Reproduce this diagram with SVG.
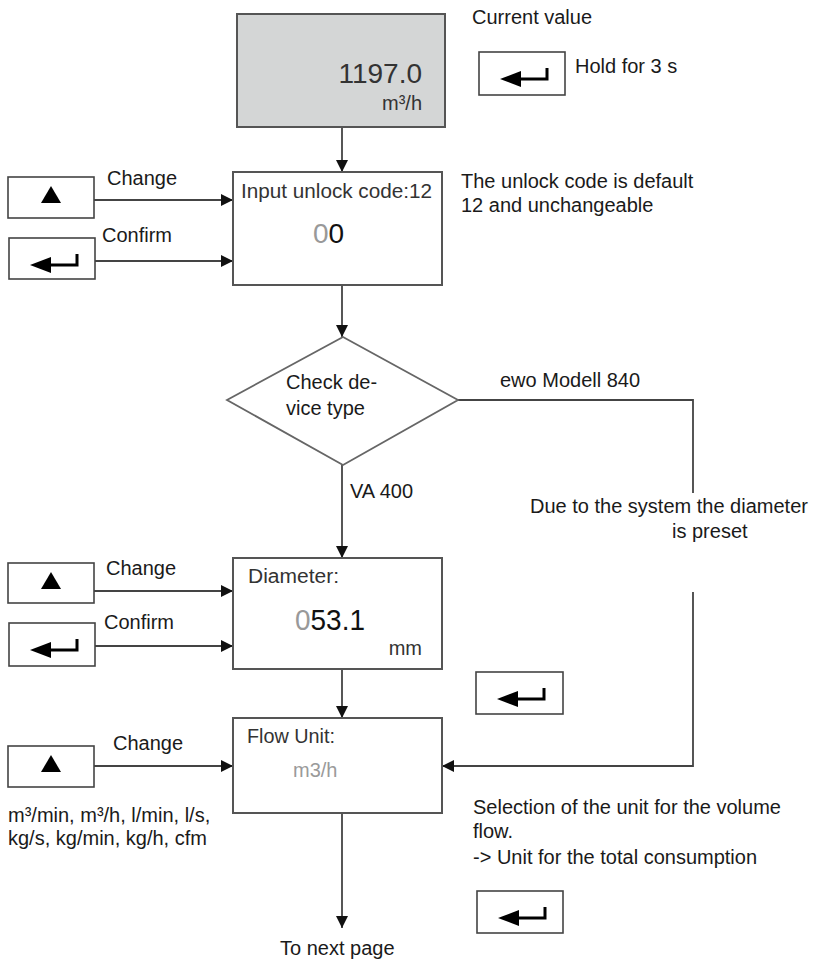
<svg xmlns="http://www.w3.org/2000/svg" width="833" height="960" viewBox="0 0 833 960">
<defs>
<style>
.t{font-family:"Liberation Sans",Arial,sans-serif;font-size:20px;fill:#1a1a1a}
.bt{font-family:"Liberation Sans",Arial,sans-serif;fill:#333}
.box{fill:#fff;stroke:#555;stroke-width:2}
.btn{fill:#fff;stroke:#444;stroke-width:1.6}
.ln{fill:none;stroke:#444;stroke-width:1.8}
.g{fill:#999}
.lg{fill:#9a9a9a}
</style>
<marker id="ah" markerUnits="userSpaceOnUse" markerWidth="12" markerHeight="12" refX="12" refY="6" orient="auto">
<path d="M0,0 L12,6 L0,12 z" fill="#111"/>
</marker>
<g id="ret">
<path d="M21,27 L42,19 L42,35 z" fill="#000"/>
<path d="M40,27 L68,27 L68,16" fill="none" stroke="#000" stroke-width="3"/>
</g>
<g id="up">
<path d="M43,9 L53,26 L33,26 z" fill="#000"/>
</g>
</defs>
<rect width="833" height="960" fill="#fff"/>

<g id="connectors">
<path class="ln" d="M342,127 V172" marker-end="url(#ah)"/>
<path class="ln" d="M342,285 V337" marker-end="url(#ah)"/>
<path class="ln" d="M342,465 V558" marker-end="url(#ah)"/>
<path class="ln" d="M342,669 V718" marker-end="url(#ah)"/>
<path class="ln" d="M342,813 V928" marker-end="url(#ah)"/>
<path class="ln" d="M94,200 H233" marker-end="url(#ah)"/>
<path class="ln" d="M95,261 H233" marker-end="url(#ah)"/>
<path class="ln" d="M94,591 H233" marker-end="url(#ah)"/>
<path class="ln" d="M95,646 H233" marker-end="url(#ah)"/>
<path class="ln" d="M94,766 H233" marker-end="url(#ah)"/>
<path class="ln" d="M458,400 H693 V493"/>
<path class="ln" d="M693,592 V766 H442" marker-end="url(#ah)"/>
<text class="t" x="500" y="387">ewo Modell 840</text>
<text class="t" x="350" y="498">VA 400</text>
</g>

<g id="current-value">
<rect x="237" y="14" width="208" height="113" fill="#d4d6d6" stroke="#555" stroke-width="2"/>
<text class="bt" x="422" y="83" font-size="28" text-anchor="end">1197.0</text>
<text class="bt" x="422" y="110" font-size="20" text-anchor="end">m³/h</text>
</g>
<text class="t" x="472" y="24">Current value</text>
<g id="btn-hold">
<rect class="btn" x="479" y="52" width="86" height="43"/>
<use href="#ret" x="479" y="52"/>
</g>
<text class="t" x="575" y="73">Hold for 3 s</text>

<g id="unlock">
<rect class="box" x="233" y="172" width="209" height="113"/>
<text class="bt" x="241" y="198" font-size="20" textLength="191" lengthAdjust="spacingAndGlyphs">Input unlock code:12</text>
<text class="bt" x="313" y="243" font-size="28"><tspan class="g">0</tspan><tspan fill="#111">0</tspan></text>
</g>
<text class="t" x="461" y="188">The unlock code is default</text>
<text class="t" x="461" y="212">12 and unchangeable</text>

<g id="btn-change1">
<rect class="btn" x="8" y="177" width="86" height="41"/>
<use href="#up" x="8" y="177"/>
</g>
<text class="t" x="107" y="185">Change</text>
<g id="btn-confirm1">
<rect class="btn" x="9" y="238" width="86" height="41"/>
<use href="#ret" x="9" y="238"/>
</g>
<text class="t" x="102" y="242">Confirm</text>

<g id="check">
<path d="M343,337 L458,400 L343,465 L227,400 z" fill="#fff" stroke="#666" stroke-width="1.8"/>
<text class="t" x="286" y="389">Check de-</text>
<text class="t" x="286" y="415">vice type</text>
</g>

<text class="t" x="530" y="513">Due to the system the diameter</text>
<text class="t" x="672" y="538">is preset</text>

<g id="btn-change2">
<rect class="btn" x="8" y="563" width="86" height="40"/>
<use href="#up" x="8" y="563"/>
</g>
<text class="t" x="106" y="575">Change</text>
<g id="btn-confirm2">
<rect class="btn" x="9" y="623" width="86" height="43"/>
<use href="#ret" x="9" y="623"/>
</g>
<text class="t" x="104" y="629">Confirm</text>

<g id="diameter">
<rect class="box" x="233" y="558" width="209" height="111"/>
<text class="bt" x="248" y="583" font-size="20" textLength="91" lengthAdjust="spacingAndGlyphs">Diameter:</text>
<text class="bt" x="295" y="630" font-size="29" textLength="70" lengthAdjust="spacingAndGlyphs"><tspan class="g">0</tspan><tspan fill="#111">53.1</tspan></text>
<text class="bt" x="422" y="655" font-size="20" text-anchor="end">mm</text>
</g>

<g id="btn-confirm3">
<rect class="btn" x="476" y="672" width="87" height="42"/>
<use href="#ret" x="476" y="672"/>
</g>

<g id="flow-unit">
<rect class="box" x="233" y="718" width="209" height="95"/>
<text class="bt" x="247" y="743" font-size="20" textLength="88" lengthAdjust="spacingAndGlyphs">Flow Unit:</text>
<text class="bt lg" x="293" y="777" font-size="20">m3/h</text>
</g>

<g id="btn-change3">
<rect class="btn" x="8" y="746" width="86" height="41"/>
<use href="#up" x="8" y="746"/>
</g>
<text class="t" x="113" y="750">Change</text>
<text class="t" x="8" y="822">m³/min, m³/h, l/min, l/s,</text>
<text class="t" x="8" y="845">kg/s, kg/min, kg/h, cfm</text>

<text class="t" x="473" y="814">Selection of the unit for the volume</text>
<text class="t" x="473" y="838">flow.</text>
<text class="t" x="473" y="864">-&gt; Unit for the total consumption</text>

<g id="btn-confirm4">
<rect class="btn" x="477" y="891" width="86" height="42"/>
<use href="#ret" x="477" y="891"/>
</g>

<text class="t" x="280" y="955">To next page</text>
</svg>
